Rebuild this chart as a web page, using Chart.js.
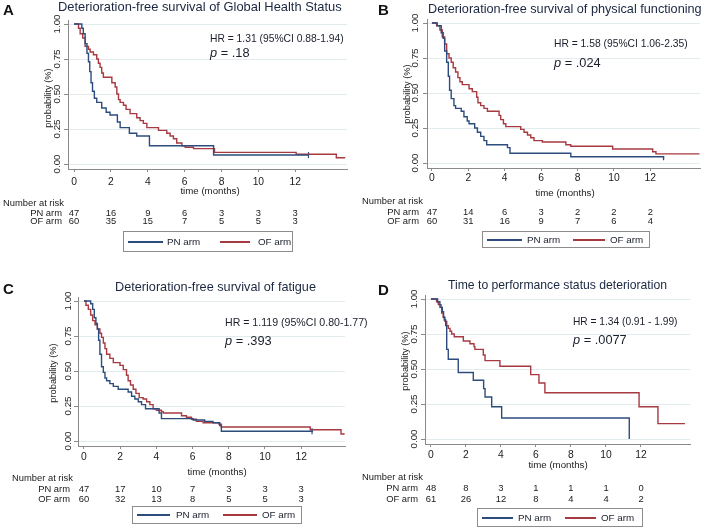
<!DOCTYPE html>
<html><head><meta charset="utf-8">
<script src="https://cdn.jsdelivr.net/npm/chart.js@4/dist/chart.umd.min.js"></script>
<style>
body{margin:0;background:#fff;width:709px;height:528px;position:relative;overflow:hidden;font-family:"Liberation Sans",Arial,sans-serif;}
canvas{position:absolute;}
.t{position:absolute;white-space:nowrap;line-height:1;color:#1a1f2b;}
.box{position:absolute;border:1px solid #8c8c8c;background:#fff;box-sizing:border-box;}
.ln{position:absolute;height:2px;}
</style></head><body>
<canvas id="cA" width="355" height="264" style="left:0;top:0"></canvas>
<canvas id="cB" width="354" height="264" style="left:355px;top:0"></canvas>
<canvas id="cC" width="355" height="264" style="left:0;top:264px"></canvas>
<canvas id="cD" width="354" height="264" style="left:355px;top:264px"></canvas>
<script>
// ---------- data ----------
const xTickValues = [0,2,4,6,8,10,12];
const yTickValues = [0,0.25,0.5,0.75,1];
const yTickLabels = ['0.00','0.25','0.50','0.75','1.00'];
const armLabels = ['PN arm','OF arm'];
const panelLetters = ['A','B','C','D'];
const panelTitles = ['Deterioration-free survival of Global Health Status','Deterioration-free survival of physical functioning','Deterioration-free survival of fatigue','Time to performance status deterioration'];
const hrTexts = ['HR = 1.31 (95%CI 0.88-1.94)','HR = 1.58 (95%CI 1.06-2.35)','HR = 1.119 (95%CI 0.80-1.77)','HR = 1.34 (0.91 - 1.99)'];
const pTexts = ['.18','.024','.393','.0077'];

// Panel A
const aPnTime = [0,0.42,0.5,0.6,0.7,0.78,0.85,0.92,1.0,1.1,1.23,1.5,1.74,1.95,2.35,2.5,3.0,3.4,4.09,7.57,12.72];
const aPnSurv = [1,0.97,0.93,0.86,0.79,0.73,0.66,0.58,0.52,0.47,0.44,0.40,0.37,0.35,0.30,0.26,0.22,0.20,0.13,0.064,0.064];
const aOfTime = [0,0.24,0.33,0.47,0.6,0.78,0.87,1.05,1.23,1.32,1.41,1.5,1.59,2.05,2.23,2.32,2.41,2.5,2.68,2.82,3.04,3.4,3.58,3.76,3.95,4.58,5.03,5.21,5.39,5.57,5.85,6.03,6.48,7.62,12.05,14.23,14.71];
const aOfSurv = [1,0.97,0.93,0.90,0.84,0.82,0.80,0.78,0.75,0.72,0.69,0.65,0.62,0.58,0.55,0.50,0.46,0.44,0.42,0.39,0.36,0.33,0.31,0.29,0.26,0.24,0.22,0.20,0.18,0.15,0.13,0.12,0.11,0.083,0.07,0.045,0.045];
const aPnCensorTime = [12.72], aPnCensorSurv = [0.064];
const aRiskPN = [47,16,9,6,3,3,3];
const aRiskOF = [60,35,15,7,5,5,3];

// Panel B
const bPnTime = [0,0.29,0.51,0.62,0.70,0.81,0.90,0.97,1.06,1.21,1.30,1.61,1.76,1.94,2.04,2.35,2.5,2.68,2.86,3.01,4.15,4.29,7.63,12.73,12.75];
const bPnSurv = [1,0.98,0.93,0.89,0.80,0.72,0.62,0.52,0.46,0.41,0.39,0.37,0.33,0.30,0.28,0.25,0.22,0.19,0.16,0.13,0.11,0.07,0.045,0.025,0.025];
const bOfTime = [0,0.26,0.44,0.57,0.70,0.81,0.94,1.06,1.17,1.30,1.43,1.54,1.67,2.04,2.22,2.46,2.53,2.68,2.86,3.05,3.69,3.78,3.93,4.06,4.88,5.06,5.25,5.43,5.61,6.07,7.36,7.63,9.93,12.13,12.31,14.7];
const bOfSurv = [1,0.98,0.95,0.90,0.85,0.78,0.75,0.72,0.68,0.65,0.61,0.58,0.56,0.53,0.51,0.47,0.43,0.41,0.39,0.37,0.34,0.31,0.28,0.26,0.24,0.22,0.20,0.18,0.16,0.15,0.13,0.12,0.10,0.08,0.065,0.065];
const bRiskPN = [47,14,6,3,2,2,2];
const bRiskOF = [60,31,16,9,7,6,4];

// Panel C
const cPnTime = [0,0.37,0.48,0.57,0.66,0.74,0.81,0.88,0.97,1.07,1.16,1.25,1.43,1.62,1.89,2.44,2.63,2.81,3.0,3.18,3.4,4.15,4.28,6.03,6.67,7.13,7.5,7.59,12.65];
const cPnSurv = [1,0.98,0.94,0.88,0.84,0.80,0.72,0.62,0.53,0.49,0.45,0.43,0.41,0.39,0.37,0.35,0.32,0.30,0.28,0.26,0.23,0.20,0.16,0.15,0.14,0.13,0.11,0.07,0.07];
const cOfTime = [0,0.11,0.24,0.37,0.48,0.61,0.74,0.88,0.97,1.07,1.16,1.25,1.43,1.62,1.99,2.17,2.35,2.44,2.57,2.72,2.87,3.05,3.27,3.46,3.64,3.82,4.0,4.28,4.38,5.39,5.66,5.94,6.21,6.58,7.46,7.59,12.5,14.2,14.4];
const cOfSurv = [1,0.97,0.94,0.90,0.86,0.83,0.80,0.77,0.74,0.70,0.66,0.62,0.59,0.56,0.54,0.51,0.47,0.43,0.40,0.37,0.34,0.31,0.30,0.28,0.26,0.23,0.22,0.21,0.20,0.18,0.17,0.155,0.14,0.13,0.12,0.10,0.08,0.05,0.05];
const cPnCensorTime = [12.6], cPnCensorSurv = [0.07];
const cRiskPN = [47,17,10,7,3,3,3];
const cRiskOF = [60,32,13,8,5,5,3];

// Panel D
const dPnTime = [0,0.38,0.51,0.57,0.65,0.72,0.76,0.84,0.9,0.99,1.56,2.42,3.01,3.09,3.47,4.04,11.33];
const dPnSurv = [1,0.98,0.96,0.94,0.91,0.87,0.85,0.81,0.64,0.57,0.475,0.42,0.36,0.30,0.23,0.15,0];
const dOfTime = [0,0.32,0.42,0.51,0.61,0.7,0.8,0.9,0.99,1.09,1.18,1.33,1.85,2.23,2.46,2.51,2.99,3.09,3.94,5.7,6.17,6.51,11.89,12.97,14.51];
const dOfSurv = [1,0.98,0.96,0.94,0.90,0.87,0.84,0.81,0.79,0.77,0.75,0.73,0.70,0.68,0.66,0.64,0.60,0.56,0.52,0.46,0.40,0.33,0.23,0.11,0.11];
const dRiskPN = [48,8,3,1,1,1,0];
const dRiskOF = [61,26,12,8,4,4,2];

// ---------- rendering ----------
const BLUE = '#2d4c7e', RED = '#a63a40';
const FONT = '"Liberation Sans", Arial, sans-serif';
function pts(t, s){ return t.map((x,i)=>({x:x, y:s[i]})); }

const kmPlugin = {
  id:'km',
  afterDraw(chart, args, o){
    const ctx = chart.ctx, xs = chart.scales.x, ys = chart.scales.y, a = chart.chartArea;
    ctx.save();
    ctx.fillStyle = '#1a1a1a';
    ctx.font = '9.8px ' + FONT;
    yTickValues.forEach((v,i)=>{
      const y = ys.getPixelForValue(v);
      ctx.save(); ctx.translate(a.left - o.yLabOff, y); ctx.rotate(-Math.PI/2);
      ctx.textAlign='center'; ctx.textBaseline='middle'; ctx.fillText(yTickLabels[i],0,0); ctx.restore();
    });
    ctx.font = '9.3px ' + FONT;
    ctx.save(); ctx.translate(a.left - o.yTitleOff, o.yTitleY); ctx.rotate(-Math.PI/2);
    ctx.textAlign='center'; ctx.textBaseline='middle'; ctx.fillText('probability (%)',0,0); ctx.restore();
    ctx.textAlign='center'; ctx.textBaseline='middle';
    ctx.font = '10.3px ' + FONT;
    xTickValues.forEach(v=>ctx.fillText(String(v), xs.getPixelForValue(v), a.bottom + o.xLabOff));
    ctx.font = '9.7px ' + FONT;
    ctx.fillText('time (months)', o.xTitleX, o.xTitleY);
    ctx.font = '9.4px ' + FONT;
    ctx.textAlign='left'; ctx.fillText('Number at risk', o.nrLeft, o.nrY[0]);
    ctx.textAlign='right';
    ctx.fillText(armLabels[0], o.nrLabRight, o.nrY[1]);
    ctx.fillText(armLabels[1], o.nrLabRight, o.nrY[2]);
    ctx.textAlign='center';
    xTickValues.forEach((v,i)=>{
      const x = xs.getPixelForValue(v);
      ctx.fillText(String(o.riskPN[i]), x, o.nrY[1]);
      ctx.fillText(String(o.riskOF[i]), x, o.nrY[2]);
    });
    ctx.restore();
  }
};

function makePanel(id, g, pn, of, censor, km){
  const ds = [
    {data:pn, borderColor:BLUE, borderWidth:1.4, stepped:true, pointRadius:0, fill:false},
    {data:of, borderColor:RED, borderWidth:1.4, stepped:true, pointRadius:0, fill:false}
  ];
  if (censor) ds.push({type:'scatter', data:censor, showLine:false, pointStyle:'line', rotation:90, radius:3, pointRadius:3, borderColor:BLUE, borderWidth:1.2});
  new Chart(document.getElementById(id), {
    type:'line',
    data:{datasets:ds},
    plugins:[kmPlugin],
    options:{
      animation:false, responsive:false, devicePixelRatio:1,
      layout:{padding:{left:0, top:g.top, right:g.w - g.right, bottom:0}},
      plugins:{legend:{display:false}, tooltip:{enabled:false}, km:km},
      scales:{
        x:{type:'linear', min:g.xmin, max:g.xmax,
           afterFit:s=>{s.height = g.h - g.bottom;},
           afterBuildTicks:s=>{s.ticks = xTickValues.map(v=>({value:v}));},
           ticks:{display:false},
           grid:{drawOnChartArea:false, drawTicks:true, tickLength:3, color:'#8a8a8a', tickColor:'#8a8a8a'},
           border:{display:true, color:'#8a8a8a', width:1}},
        y:{type:'linear', min:-0.0357, max:1.0286,
           afterFit:s=>{s.width = g.left;},
           afterBuildTicks:s=>{s.ticks = yTickValues.map(v=>({value:v}));},
           ticks:{display:false},
           grid:{color:'#e2ebee', tickColor:'#8a8a8a', tickLength:4, drawTicks:true},
           border:{display:true, color:'#8a8a8a', width:1}}
      }
    }
  });
}

makePanel('cA', {left:68, top:20, right:347, bottom:169, w:355, h:264, xmin:-0.33, xmax:14.81},
  pts(aPnTime,aPnSurv), pts(aOfTime,aOfSurv), pts(aPnCensorTime,aPnCensorSurv),
  {yLabOff:11, yTitleOff:20, yTitleY:98, xLabOff:13, xTitleX:210, xTitleY:191, nrLeft:3, nrLabRight:62, nrY:[203,213,221], riskPN:aRiskPN, riskOF:aRiskOF});
makePanel('cB', {left:72, top:19, right:345, bottom:168, w:354, h:264, xmin:-0.27, xmax:14.73},
  pts(bPnTime,bPnSurv), pts(bOfTime,bOfSurv), null,
  {yLabOff:12, yTitleOff:20, yTitleY:94, xLabOff:10, xTitleX:210, xTitleY:193, nrLeft:7, nrLabRight:64, nrY:[201,212,221], riskPN:bRiskPN, riskOF:bRiskOF});
makePanel('cC', {left:78, top:33, right:345, bottom:182, w:355, h:264, xmin:-0.33, xmax:14.42},
  pts(cPnTime,cPnSurv), pts(cOfTime,cOfSurv), pts(cPnCensorTime,cPnCensorSurv),
  {yLabOff:10, yTitleOff:25, yTitleY:109, xLabOff:11, xTitleX:217, xTitleY:208, nrLeft:12, nrLabRight:70, nrY:[214,225,235], riskPN:cRiskPN, riskOF:cRiskOF});
makePanel('cD', {left:70, top:31, right:335, bottom:180, w:354, h:264, xmin:-0.34, xmax:14.8},
  pts(dPnTime,dPnSurv), pts(dOfTime,dOfSurv), null,
  {yLabOff:11, yTitleOff:20, yTitleY:97, xLabOff:11, xTitleX:203, xTitleY:201, nrLeft:7, nrLabRight:63, nrY:[213,224,235], riskPN:dRiskPN, riskOF:dRiskOF});

// ---------- HTML text overlays ----------
function txt(html, x, cy, size, extra){
  const d = document.createElement('div');
  d.className = 't';
  d.innerHTML = html;
  d.style.left = x + 'px';
  d.style.top = (cy - 0.49*size) + 'px';
  d.style.fontSize = size + 'px';
  if (extra) Object.assign(d.style, extra);
  document.body.appendChild(d);
}
const letterPos = [[3,9],[378,9],[3,288],[378,289]];
const titlePos = [[58,7.5,12.9],[428,9.5,12.7],[115,287.5,12.7],[448,284.5,12.2]];
const hrPos = [[210,39,10.3],[554,44,10.3],[225,322.5,10.6],[573,322,10.2]];
const pPos = [[210,53.5],[554,63],[225,341],[573,340.5]];
panelLetters.forEach((L,i)=>txt(L, letterPos[i][0], letterPos[i][1], 15, {fontWeight:'bold', color:'#111'}));
panelTitles.forEach((T,i)=>txt(T, titlePos[i][0], titlePos[i][1], titlePos[i][2], {color:'#1b2740'}));
hrTexts.forEach((T,i)=>txt(T, hrPos[i][0], hrPos[i][1], hrPos[i][2]));
pTexts.forEach((T,i)=>txt('<i>p</i> = ' + T, pPos[i][0], pPos[i][1], 12.8));

function legend(bx, by, bw, bh, b1, b2, t1, r1, r2, t2){
  const box = document.createElement('div');
  box.className='box';
  Object.assign(box.style,{left:bx+'px', top:by+'px', width:bw+'px', height:bh+'px'});
  document.body.appendChild(box);
  const cy = Math.round(by + bh/2);
  [[b1,b2,BLUE],[r1,r2,RED]].forEach(([x1,x2,c])=>{
    const l = document.createElement('div'); l.className='ln';
    Object.assign(l.style,{left:x1+'px', top:(cy-1)+'px', width:(x2-x1)+'px', background:c});
    document.body.appendChild(l);
  });
  txt(armLabels[0], t1, cy, 9.8);
  txt(armLabels[1], t2, cy, 9.8);
}
legend(123,231,170,21,128,163,167,220,250,258);
legend(482,231,168,17,487,522,527,573,605,610);
legend(132,506,170,18,137,170,176,223,257,262);
legend(477,508,166,19,482,513,518,565,596,601);
</script>
</body></html>
